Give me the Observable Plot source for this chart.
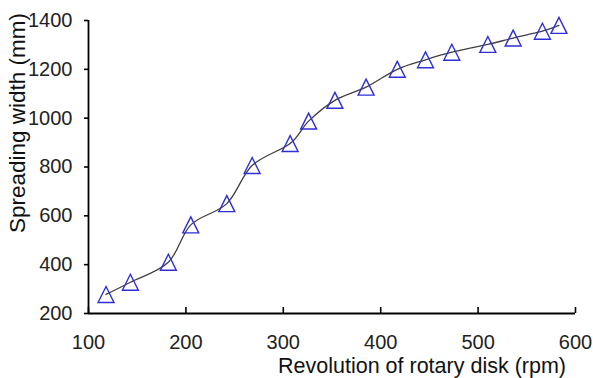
<!DOCTYPE html>
<html>
<head>
<meta charset="utf-8">
<script src="https://cdn.jsdelivr.net/npm/d3@7"></script>
<script src="https://cdn.jsdelivr.net/npm/@observablehq/plot@0.6"></script>
<style>
  html, body { margin: 0; padding: 0; background: #fff; }
  #chart svg { display: block; }
</style>
</head>
<body>
<div id="chart"></div>
<script>
// Data
const rpm = [118, 143, 182, 205, 242, 268, 307, 326, 353, 385, 417, 446, 473, 510, 536, 566, 583];
const spreadingWidth = [278, 328, 410, 563, 650, 806, 896, 988, 1073, 1127, 1200, 1239, 1270, 1302, 1328, 1356, 1380];
const xTicks = [100, 200, 300, 400, 500, 600];
const yTicks = [200, 400, 600, 800, 1000, 1200, 1400];
const xTitle = "Revolution of rotary disk (rpm)";
const yTitle = "Spreading width (mm)";

const data = rpm.map((r, i) => ({rpm: r, width: spreadingWidth[i]}));

// Open triangle centred on its bounding box (like the spreadsheet marker)
const triangle = {
  draw(context, size) {
    const a = Math.sqrt(size) / 2;
    context.moveTo(0, -a);
    context.lineTo(a, a);
    context.lineTo(-a, a);
    context.closePath();
  }
};

const font = "'Liberation Sans', Arial, sans-serif";
const fmt = d => String(d);

const chart = Plot.plot({
  width: 593,
  height: 378,
  marginLeft: 88,
  marginRight: 18,
  marginTop: 20,
  marginBottom: 65,
  style: {fontFamily: font, background: "#fff", color: "#000"},
  x: {domain: [100, 600], ticks: xTicks},
  y: {domain: [200, 1400], ticks: yTicks},
  marks: [
    Plot.axisX(xTicks, {tickSize: 0, tickPadding: 21.3, fontSize: 20, label: null, tickFormat: fmt, fill: "#222"}),
    Plot.axisY(yTicks, {tickSize: 4, tickPadding: 12, fontSize: 20, label: null, tickFormat: fmt, stroke: "#000", strokeWidth: 1.6, fill: "#222"}),
    Plot.ruleX(xTicks, {x: d => d, y1: 200, y2: 200, insetTop: -6, stroke: "#000", strokeWidth: 1.6}),
    Plot.ruleX([100], {stroke: "#000", strokeWidth: 1.8}),
    Plot.ruleY([200], {stroke: "#000", strokeWidth: 1.8}),
    Plot.line(data, {x: "rpm", y: "width", curve: "cardinal", stroke: "#404040", strokeWidth: 1.3}),
    Plot.dot(data, {x: "rpm", y: "width", symbol: triangle, r: 9, stroke: "#2f2fd6", strokeWidth: 1.4, fill: "none"}),
    Plot.text([xTitle], {frameAnchor: "bottom", textAnchor: "middle", dx: 90, dy: 52.6, lineAnchor: "middle", fontSize: 21.5, fill: "#111"}),
    Plot.text([yTitle], {frameAnchor: "left", textAnchor: "middle", dx: -71.2, dy: -44, rotate: -90, lineAnchor: "middle", fontSize: 22.5, fill: "#111"})
  ]
});

document.getElementById("chart").appendChild(chart);
</script>
</body>
</html>
